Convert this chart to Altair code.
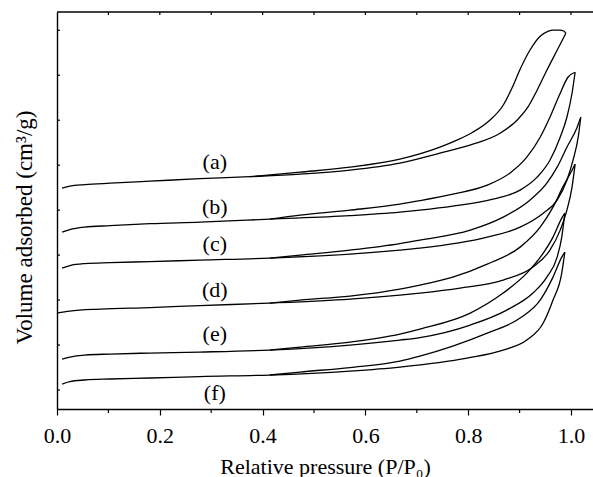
import altair as alt
import pandas as pd

# Relative pressure (P/P0) and volume adsorbed (arbitrary, vertically offset units)
a_ads_x = [0.010, 0.025, 0.054, 0.103, 0.181, 0.278, 0.375, 0.473, 0.570, 0.667, 0.745, 0.809, 0.862, 0.895, 0.916, 0.934, 0.953, 0.973, 0.984, 0.990]
a_ads_y = [202, 204, 205.5, 207, 209, 211.5, 213.5, 216, 220, 227, 237, 246, 257, 270, 283, 300, 320, 340, 351, 357]
a_des_x = [0.990, 0.986, 0.978, 0.966, 0.955, 0.940, 0.920, 0.901, 0.885, 0.868, 0.842, 0.809, 0.778, 0.745, 0.667, 0.570, 0.473, 0.375]
a_des_y = [357, 359.3, 360.2, 360.2, 359, 354, 340, 321, 302, 285, 270, 258, 250, 243, 231, 223, 218, 213.5]

b_ads_x = [0.010, 0.025, 0.054, 0.103, 0.181, 0.278, 0.414, 0.570, 0.667, 0.706, 0.770, 0.848, 0.901, 0.934, 0.959, 0.979, 0.992, 1.002, 1.008]
b_ads_y = [158, 160.5, 163, 164.5, 166.5, 168, 171, 174.5, 178, 180, 184, 191, 200, 213, 230, 253, 273, 297, 318]
b_des_x = [1.008, 0.994, 0.979, 0.959, 0.940, 0.914, 0.881, 0.837, 0.770, 0.706, 0.667, 0.570, 0.473, 0.414]
b_des_y = [318, 313, 297, 273, 253, 233, 217, 205, 196, 189.5, 186, 180, 175, 171]

c_ads_x = [0.010, 0.025, 0.054, 0.103, 0.181, 0.278, 0.414, 0.570, 0.667, 0.706, 0.837, 0.901, 0.946, 0.973, 0.992, 1.004, 1.014, 1.019]
c_ads_y = [122, 124.5, 126.5, 127.5, 128.5, 130, 132, 136, 140, 142, 153, 163, 177, 190, 210, 230, 253, 273]
c_des_x = [1.019, 1.012, 0.992, 0.973, 0.953, 0.920, 0.868, 0.804, 0.706, 0.667, 0.570, 0.473, 0.414]
c_des_y = [273, 263, 243, 223, 207, 190, 173, 160, 150, 146.5, 140, 135, 132]

d_ads_x = [0.000, 0.025, 0.084, 0.181, 0.278, 0.414, 0.570, 0.667, 0.706, 0.784, 0.868, 0.926, 0.959, 0.979, 0.992, 1.002, 1.008]
d_ads_y = [77, 79, 81, 82.5, 84.5, 87, 91, 95, 97, 102, 110, 123, 140, 160, 180, 203, 226]
d_des_x = [1.008, 1.002, 0.984, 0.965, 0.940, 0.901, 0.837, 0.770, 0.706, 0.667, 0.570, 0.473, 0.414]
d_des_y = [226, 220, 203, 183, 163, 143, 126, 113, 105, 101, 94, 90, 87]

e_ads_x = [0.010, 0.025, 0.054, 0.103, 0.181, 0.278, 0.414, 0.570, 0.667, 0.706, 0.804, 0.875, 0.926, 0.953, 0.973, 0.982, 0.988]
e_ads_y = [31, 33, 35, 36, 37, 38, 40, 45, 50, 52.5, 65, 80, 97, 113, 133, 153, 177]
e_des_x = [0.988, 0.982, 0.965, 0.946, 0.914, 0.868, 0.804, 0.706, 0.667, 0.570, 0.473, 0.414]
e_des_y = [177, 172, 153, 137, 117, 97, 77, 61, 56, 48, 43, 40]

f_ads_x = [0.010, 0.025, 0.054, 0.103, 0.181, 0.278, 0.414, 0.570, 0.667, 0.798, 0.868, 0.914, 0.946, 0.965, 0.982, 0.988]
f_ads_y = [6, 8.5, 10, 11, 12, 13.5, 15, 19, 23, 32, 40, 50, 67, 90, 117, 138]
f_des_x = [0.988, 0.982, 0.965, 0.940, 0.901, 0.837, 0.770, 0.706, 0.667, 0.570, 0.473, 0.414]
f_des_y = [138, 133, 113, 90, 72, 57, 44, 34, 29, 22.5, 18, 15]

label_text = ["(a)", "(b)", "(c)", "(d)", "(e)", "(f)"]
label_x = [0.307, 0.307, 0.307, 0.307, 0.307, 0.307]
label_y = [228, 183, 146, 100, 56, -3]

x_major_ticks = [0.0, 0.2, 0.4, 0.6, 0.8, 1.0]
x_minor_ticks = [0.1, 0.3, 0.5, 0.7, 0.9]
top_ticks = [0.1, 0.2, 0.3, 0.4, 0.5, 0.6, 0.7, 0.8, 0.9, 1.0]
left_ticks = [0, 45, 90, 135, 180, 225, 270, 315, 360]

X_DOMAIN = [0, 1.0428]
Y_DOMAIN = [-19, 378.3]
W, H = 536, 397
FONT = "Liberation Serif"

series = {
    "a": (a_ads_x, a_ads_y, a_des_x, a_des_y),
    "b": (b_ads_x, b_ads_y, b_des_x, b_des_y),
    "c": (c_ads_x, c_ads_y, c_des_x, c_des_y),
    "d": (d_ads_x, d_ads_y, d_des_x, d_des_y),
    "e": (e_ads_x, e_ads_y, e_des_x, e_des_y),
    "f": (f_ads_x, f_ads_y, f_des_x, f_des_y),
}
rows = []
for name, (ax, ay, dx, dy) in series.items():
    for xv, yv in zip(ax, ay):
        rows.append({"p": xv, "v": yv, "branch": name + "-ads"})
    for xv, yv in zip(dx, dy):
        rows.append({"p": xv, "v": yv, "branch": name + "-des"})
df = pd.DataFrame(rows)

xscale = alt.Scale(domain=X_DOMAIN, nice=False, zero=False)
yscale = alt.Scale(domain=Y_DOMAIN, nice=False, zero=False)

lines = alt.Chart(df).mark_line(
    color="black", strokeWidth=1.3, interpolate="monotone", clip=False
).encode(
    x=alt.X("p:Q", scale=xscale, axis=alt.Axis(
        values=x_major_ticks, format=".1f", title="Relative pressure (P/P\u2080)",
        tickSize=6, tickWidth=1.2, tickColor="black", domainColor="black", domainWidth=1.4,
        labelFont=FONT, labelFontSize=22, labelColor="black", labelPadding=10,
        labelFlush=False, grid=False,
        titleFont=FONT, titleFontSize=22, titleFontWeight="normal", titleColor="black",
        titleY=57, titleBaseline="middle",
    )),
    y=alt.Y("v:Q", scale=yscale, axis=alt.Axis(
        ticks=False, labels=False, grid=False, title="Volume adsorbed (cm\u00b3/g)",
        domainColor="black", domainWidth=1.4,
        titleFont=FONT, titleFontSize=23, titleFontWeight="normal", titleColor="black",
        titleX=-33, titleY=215, titleAngle=270, titleBaseline="middle", titleAlign="center",
    )),
    detail="branch:N",
)

labels_df = pd.DataFrame({"t": label_text, "x": label_x, "y": label_y})
labels = alt.Chart(labels_df).mark_text(
    font=FONT, fontSize=22, color="black", align="center", baseline="middle"
).encode(x=alt.X("x:Q", scale=xscale), y=alt.Y("y:Q", scale=yscale), text="t:N")

minor_df = pd.DataFrame({"x": x_minor_ticks})
minor = alt.Chart(minor_df).mark_rule(color="black", strokeWidth=1.2).encode(
    x=alt.X("x:Q", scale=xscale), y=alt.value(H), y2=alt.value(H + 4)
)

top_df = pd.DataFrame({"x": top_ticks})
topt = alt.Chart(top_df).mark_rule(color="black", strokeWidth=1.2).encode(
    x=alt.X("x:Q", scale=xscale), y=alt.value(0), y2=alt.value(3)
)

left_df = pd.DataFrame({"y": left_ticks})
leftt = alt.Chart(left_df).mark_rule(color="black", strokeWidth=1.2).encode(
    y=alt.Y("y:Q", scale=yscale), x=alt.value(0), x2=alt.value(3)
)

top_line = alt.Chart(pd.DataFrame({"k": [0]})).mark_rule(color="black", strokeWidth=1.4).encode(
    x=alt.value(0), x2=alt.value(W), y=alt.value(0)
)

chart = alt.layer(lines, labels, minor, topt, leftt, top_line).properties(
    width=W, height=H,
    autosize=alt.AutoSizeParams(type="none"),
    padding={"left": 57, "top": 12, "right": 0, "bottom": 68},
).configure_view(stroke=None)

chart.save("out.html", embed_options={"renderer": "svg", "actions": False})
